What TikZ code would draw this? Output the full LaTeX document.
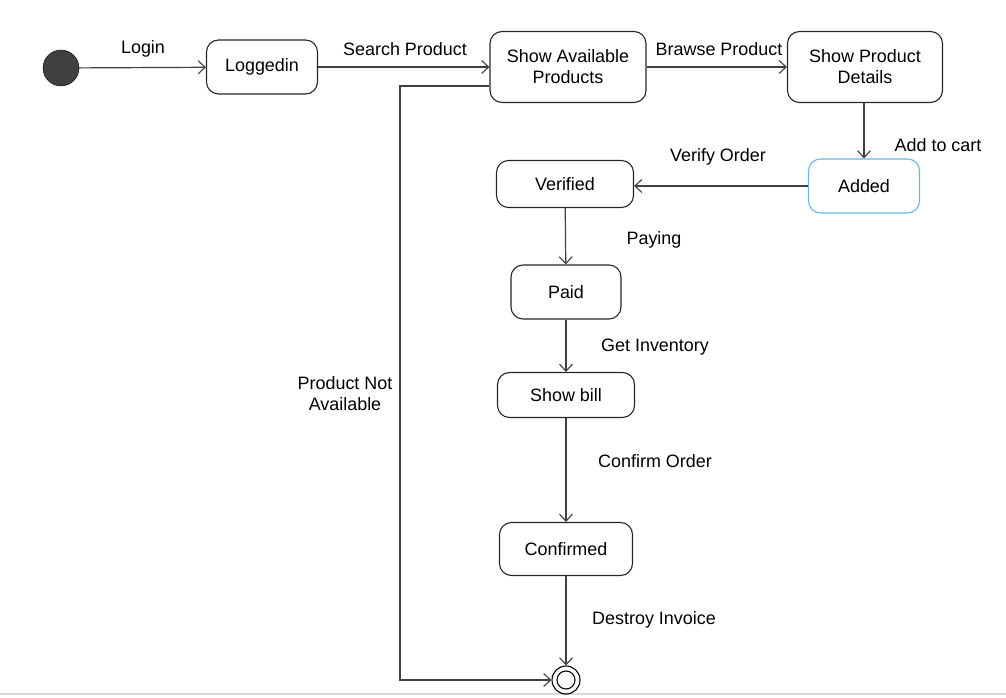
\documentclass[tikz,border=0pt]{standalone}
\usepackage{fontspec}
\setmainfont{Liberation Sans}
\usetikzlibrary{arrows.meta}
\definecolor{linegray}{HTML}{404040}
\definecolor{addblue}{HTML}{6FB3E6}
\tikzset{
  statebox/.style={draw=black!85,line width=1.1bp,rounded corners=12bp,align=center,inner sep=0pt},
  flow/.style={draw=linegray,line width=1.2bp,-{Straight Barb[length=7bp,width=13bp,line width=1.1bp]}},
  lbl/.style={align=center}
}
\begin{document}
\begin{tikzpicture}[x=1bp,y=-1bp,font=\fontsize{18}{21}\selectfont]
\useasboundingbox (0,0) rectangle (1006,698);
\draw[black!15,line width=1.5bp] (0,694) -- (1006,694);
\node[circle,fill=black!75,draw=black,minimum size=36bp,inner sep=0pt] (start) at (61,68) {};
\node[statebox,minimum width=111bp,minimum height=54bp] (loggedin) at (262,67) {Loggedin};
\node[statebox,minimum width=156bp,minimum height=71bp] (avail) at (568,67) {Show Available\\Products};
\node[statebox,minimum width=155bp,minimum height=71bp] (details) at (865,67) {Show Product\\Details};
\node[statebox,draw=addblue,minimum width=111bp,minimum height=54bp] (added) at (864,186) {Added};
\node[statebox,minimum width=137bp,minimum height=47bp] (verified) at (565,184) {Verified};
\node[statebox,minimum width=110bp,minimum height=54bp] (paid) at (566,292) {Paid};
\node[statebox,minimum width=137bp,minimum height=45bp] (bill) at (566,395) {Show bill};
\node[statebox,minimum width=133bp,minimum height=53bp] (confirmed) at (566,549) {Confirmed};
\node[circle,draw=black,line width=1.1bp,minimum size=28bp,inner sep=0pt] (final) at (566,680) {};
\node[circle,draw=black,line width=1.1bp,minimum size=18bp,inner sep=0pt] at (final) {};
\coordinate (loopturn) at (400,86);
\coordinate (loopbottom) at (400,680);
% transitions
\draw[flow] (start) -- (loggedin);
\draw[flow] (loggedin) -- (avail);
\draw[flow] (avail) -- (details);
\draw[flow] (details.south -| added) -- (added);
\draw[flow] (added.west) -- (verified.east |- added.west);
\draw[flow] (verified) -- (paid);
\draw[flow] (paid) -- (bill);
\draw[flow] (bill) -- (confirmed);
\draw[flow] (confirmed) -- (final);
\draw[flow] (avail.west |- loopturn) -- (loopturn) -- (loopbottom) -- (final);
% labels
\node[lbl] (tlogin) at (143,49) {Login};
\node[lbl] (tsearch) at (405,49) {Search Product};
\node[lbl] (tbrowse) at (719,49) {Brawse Product};
\node[lbl] (tcart) at (938,145) {Add to cart};
\node[lbl] (tverify) at (718,157) {Verify Order};
\node[lbl] (tpay) at (654,240) {Paying};
\node[lbl] (tinv) at (655,347) {Get Inventory};
\node[lbl] (tnot) at (345,394) {Product Not\\Available};
\node[lbl] (tconf) at (655,461) {Confirm Order};
\node[lbl] (tdestroy) at (654,620) {Destroy Invoice};
\end{tikzpicture}
\end{document}
